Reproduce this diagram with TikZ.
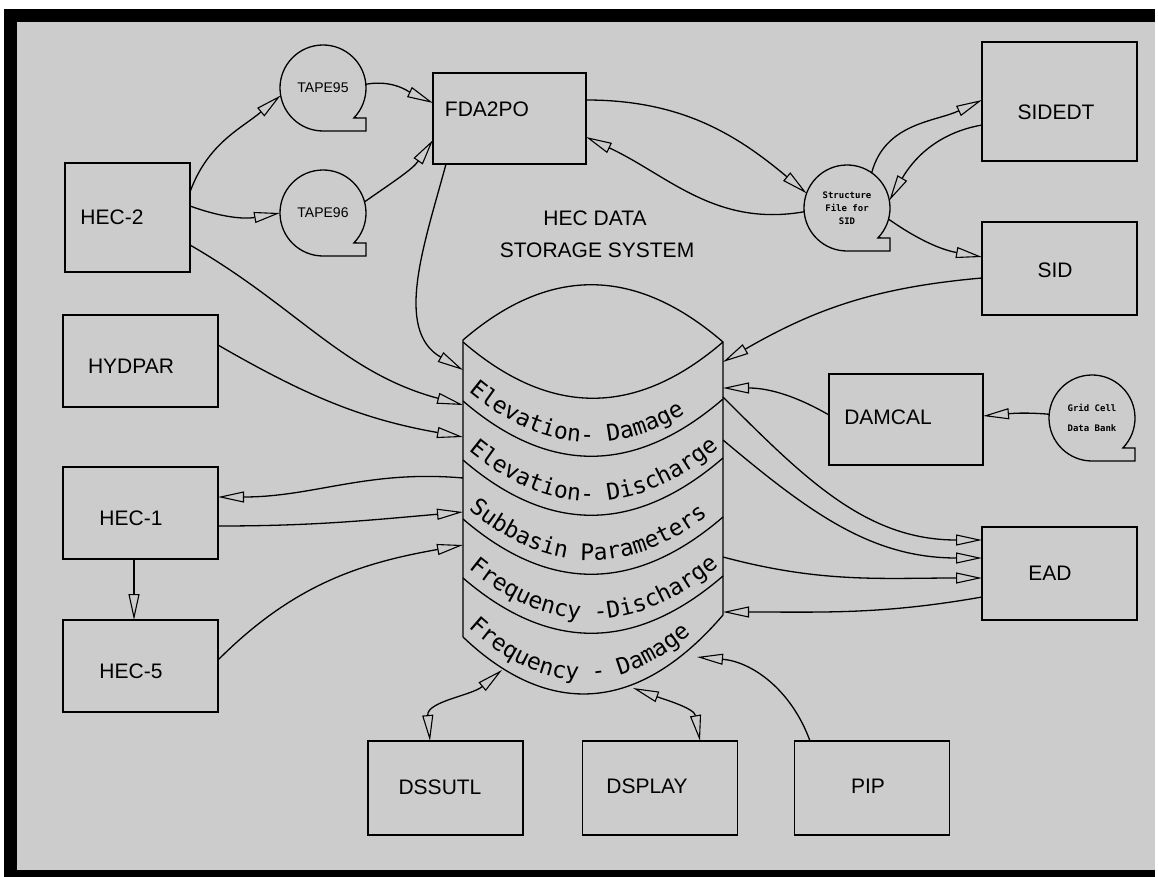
\documentclass[tikz,border=0pt]{standalone}
\usepackage{fontspec}
\setmainfont{Liberation Sans}
\newfontfamily\cylfont{DejaVu Sans Mono}
\usetikzlibrary{arrows.meta,decorations.text,calc}
\definecolor{bg}{gray}{0.80}
\begin{document}
\begin{tikzpicture}[x=1pt,y=-1pt,
  box/.style={draw, line width=1.3pt, rectangle, minimum width=155pt, minimum height=92pt,
    inner sep=0pt, outer sep=0pt},
  lbl/.style={inner sep=0pt, font=\fontsize{21}{21}\selectfont},
  tape/.style={circle, minimum size=86pt, inner sep=0pt, outer sep=0pt},
  tapeline/.style={line width=1.3pt},
  tip/.tip={Triangle[open, length=26pt, width=11pt, line width=1.1pt]},
  conn/.style={line width=1.3pt, -tip},
  both/.style={line width=1.3pt, tip-tip},
  cyl/.style={line width=1.3pt},
  band/.style={decorate, decoration={text along path, text align={left indent=7pt},
    text={|\cylfont\fontsize{23}{23}\selectfont|#1}}}
]
\useasboundingbox (0,0) rectangle (1158,877);
\fill[white] (0,0) rectangle (1158,877);
\fill[black] (4,9) rectangle (1155,877);
\fill[bg] (17,22) rectangle (1155,870);

% boxes
\node[box, minimum width=125pt, minimum height=109pt] (hec2) at (127.5,217.5) {};
\node[box] (hydpar) at (140.5,361) {};
\node[box] (hec1) at (140.5,513) {};
\node[box] (hec5) at (140.5,666) {};
\node[box, minimum width=153pt, minimum height=91pt] (fda) at (509.5,118.5) {};
\node[box, minimum height=119pt] (sidedt) at (1059.5,101.5) {};
\node[box, minimum height=93pt] (sid) at (1059.5,268.5) {};
\node[box, minimum width=154pt, minimum height=91pt] (damcal) at (906,419.5) {};
\node[box, minimum height=93pt] (ead) at (1059.5,573.5) {};
\node[box, minimum height=94pt] (dssutl) at (445.5,788) {};
\node[box, minimum height=94pt] (dsplay) at (660,788) {};
\node[box, minimum height=94pt] (pip) at (872,788) {};

% box labels
\node[lbl] (hec2-t) at (112,217) {HEC-2};
\node[lbl] (hydpar-t) at (131,366) {HYDPAR};
\node[lbl] (hec1-t) at (131,518) {HEC-1};
\node[lbl] (hec5-t) at (131,671) {HEC-5};
\node[lbl] (fda-t) at (487,109) {FDA2PO};
\node[lbl] (sidedt-t) at (1056,112) {SIDEDT};
\node[lbl] (sid-t) at (1055,270) {SID};
\node[lbl] (damcal-t) at (888,417) {DAMCAL};
\node[lbl] (ead-t) at (1050,573) {EAD};
\node[lbl] (dssutl-t) at (440,787) {DSSUTL};
\node[lbl] (dsplay-t) at (647,786) {DSPLAY};
\node[lbl] (pip-t) at (868,786) {PIP};

% tapes
\node[tape, font=\fontsize{14}{14}\selectfont] (t95) at (323,88) {TAPE95};
\draw[tapeline] (t95.-44) arc[start angle=-44, end angle=270, radius=43pt] -- ++(43pt,0pt) -- ++(0pt,13pt) -- cycle;
\node[tape, font=\fontsize{14}{14}\selectfont] (t96) at (323,213) {TAPE96};
\draw[tapeline] (t96.-44) arc[start angle=-44, end angle=270, radius=43pt] -- ++(43pt,0pt) -- ++(0pt,13pt) -- cycle;
\node[tape, align=center, font=\cylfont\bfseries\fontsize{9}{13}\selectfont] (sf) at (847,208) {Structure\\File for\\SID};
\draw[tapeline] (sf.-44) arc[start angle=-44, end angle=270, radius=43pt] -- ++(43pt,0pt) -- ++(0pt,13pt) -- cycle;
\node[tape, align=center, font=\cylfont\bfseries\fontsize{9}{20}\selectfont] (grid) at (1092,418) {Grid Cell\\Data Bank};
\draw[tapeline] (grid.-44) arc[start angle=-44, end angle=270, radius=43pt] -- ++(43pt,0pt) -- ++(0pt,13pt) -- cycle;

% title text
\node[lbl] (t1) at (595,218) {HEC DATA};
\node[lbl] (t2) at (597,250) {STORAGE SYSTEM};

% cylinder
\node[minimum width=260pt, minimum height=410pt, inner sep=0pt, outer sep=0pt] (cyl) at (593,490) {};
\draw[cyl] (463,637) -- (463,340) .. controls (550,265) and (636,267) .. (723,342) -- (723,615);
\draw[cyl] (463,342) .. controls (550,417) and (636,417) .. (723,342);
\draw[cyl] (463,401) .. controls (550,476) and (636,474) .. (723,399);
\draw[cyl] (463,460) .. controls (550,535) and (636,533) .. (723,458);
\draw[cyl] (463,519) .. controls (550,594) and (636,592) .. (723,517);
\draw[cyl] (463,578) .. controls (550,653) and (636,651) .. (723,576);
\draw[cyl] (463,637) .. controls (550,720) and (640,712) .. (723,615);
\path[band={Elevation- Damage}] (463,387) .. controls (550,462) and (636,460) .. (723,385);
\path[band={Elevation- Discharge}] (463,446) .. controls (550,521) and (636,519) .. (723,444);
\path[band={Subbasin Parameters}] (463,505) .. controls (550,580) and (636,578) .. (723,503);
\path[band={Frequency -Discharge}] (463,564) .. controls (550,639) and (636,637) .. (723,562);
\path[band={Frequency - Damage}] (463,623) .. controls (550,706) and (640,698) .. (723,601);

\coordinate (pipin) at (697,657);
\coordinate (dspin) at (633,688);
\coordinate (dssin) at (502,670);

% connectors
\draw[conn] (hec2.east|-0,192) to[out=70,in=220] (t95.190);
\draw[conn] (hec2.east|-0,206) to[out=-20,in=190] (t96.180);
\draw[conn] (t95.5) to[out=10,in=155] (fda.west|-0,103);
\draw[conn] (t96.15) to[out=35,in=235] (fda.west|-0,140);
\draw[conn] (fda.south-|446,0) to[out=255,in=150] (cyl.west|-0,370);
\draw[conn] (hec2.east|-0,245) to[out=-30,in=165] (cyl.west|-0,405);
\draw[conn] (hydpar.east|-0,345) to[out=-30,in=170] (cyl.west|-0,437);
\draw[conn] (cyl.west|-0,478) to[out=175,in=0] (hec1.east|-0,497);
\draw[conn] (hec1.east|-0,526) to[out=0,in=185] (cyl.west|-0,512);
\draw[conn] (hec5.east|-0,660) to[out=45,in=190] (cyl.west|-0,545);
\draw[conn] (hec1.south-|134,0) -- (hec5.north-|134,0);
\draw[conn] (fda.east|-0,100) to[out=0,in=140] (sf.160);
\draw[conn] (sf.185) to[out=190,in=-25] (fda.east|-0,137);
\draw[conn] (sf.55) to[out=75,in=205] (sidedt.west|-0,100);
\draw[conn] (sidedt.west|-0,125) to[out=190,in=60] (sf.10);
\draw[conn] (sf.-15) to[out=-35,in=170] (sid.west|-0,257);
\draw[conn] (sid.west|-0,278) to[out=185,in=30] (cyl.east|-0,362);
\draw[conn] (damcal.west|-0,415) to[out=150,in=0] (cyl.east|-0,388);
\draw[conn] (grid.175) to[out=175,in=5] (damcal.east|-0,416);
\draw[conn] (cyl.east|-0,397) to[out=-45,in=180] (ead.west|-0,540);
\draw[conn] (cyl.east|-0,440) to[out=-40,in=180] (ead.west|-0,558);
\draw[conn] (cyl.east|-0,557) to[out=-15,in=180] (ead.west|-0,578);
\draw[conn] (ead.west|-0,597) to[out=190,in=0] (cyl.east|-0,612);
\draw[conn] (pip.north-|810,0) to[out=110,in=-5] (pipin);
\draw[both] (dspin) to[out=-20,in=100] (dsplay.north-|700,0);
\draw[both] (dssin) to[out=220,in=95] (dssutl.north-|430,0);
\end{tikzpicture}
\end{document}
